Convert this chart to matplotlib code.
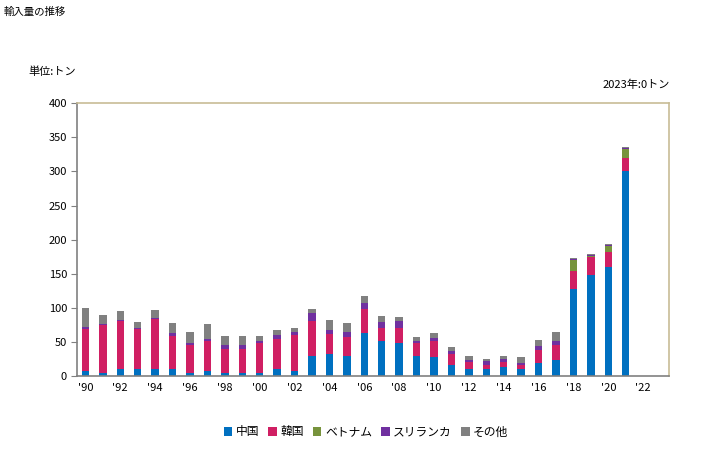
import matplotlib
matplotlib.use("Agg")
import matplotlib.pyplot as plt
from matplotlib.patches import Patch
import numpy as np

plt.rcParams['font.family'] = ['Noto Sans CJK JP', 'DejaVu Sans']

years = list(range(1990, 2022))
series_names = ["中国", "韓国", "ベトナム", "スリランカ", "その他"]
colors = ["#0070C0", "#D01F63", "#77933C", "#7030A0", "#808080"]

china = [7, 5, 11, 10, 11, 11, 5, 7, 4, 4, 5, 11, 8, 30, 33, 30, 63, 52, 49, 30, 28, 16,
         11, 11, 13, 10, 19.5, 23, 128, 148, 160, 300]
korea = [62, 70, 69, 59, 72, 47, 40, 44, 35, 36, 43, 44, 52, 51, 28, 27, 36, 18, 21, 18, 24, 16,
         9, 5.5, 7, 6.5, 18, 23, 26, 27, 22, 20]
vietnam = [0, 0, 0, 0, 0, 0, 0, 0, 0, 0, 0, 0, 0, 0, 0, 0, 0, 0, 0, 0, 0, 0,
           0, 0, 0, 0, 0, 0, 16, 0.5, 8, 13]
srilanka = [3, 2, 2, 1.5, 1.5, 5, 3, 3, 6, 6, 4, 5, 5, 11, 6, 8, 8, 9, 11, 4, 4, 4,
            3, 6, 5, 3, 6, 6, 2, 1.5, 2, 2]
other = [28, 13, 13, 8, 13, 15, 17, 22, 13, 12, 6, 7, 6, 7, 15, 13, 11, 9, 6, 5, 7, 7,
         7, 3, 4, 8.5, 9, 12, 1.5, 1.5, 1, 1.5]

xtick_years = list(range(1990, 2023, 2))
xtick_labels = ["'" + str(y)[2:] for y in xtick_years]
yticks = [0, 50, 100, 150, 200, 250, 300, 350, 400]

fig = plt.figure(figsize=(7.28, 4.5), dpi=100)
ax = fig.add_axes([76.7/728, 1-376/450, (669.3-76.7)/728, (376-103.3)/450])

bottom = np.zeros(len(years))
for vals, name, c in zip([china, korea, vietnam, srilanka, other], series_names, colors):
    v = np.array(vals, dtype=float)
    ax.bar(years, v, bottom=bottom, width=0.42, color=c, label=name, linewidth=0)
    bottom += v

ax.set_xlim(1989.5, 2023.5)
ax.set_ylim(0, 400)
ax.set_yticks(yticks)
ax.set_yticklabels([str(t) for t in yticks], fontsize=8)
ax.set_xticks(xtick_years)
ax.set_xticklabels(xtick_labels, fontsize=8)
ax.tick_params(axis='x', length=0, pad=5)
ax.tick_params(axis='y', length=4, color='#808080', pad=3)

for s in ['left', 'bottom']:
    ax.spines[s].set_color('#808080')
    ax.spines[s].set_linewidth(1.2)
for s in ['top', 'right']:
    ax.spines[s].set_color('#C8BC96')
    ax.spines[s].set_linewidth(1.2)

fig.text(4/728, 1-12/450, "輸入量の推移", fontsize=7.5, va='center', ha='left')
fig.text(28/728, 1-72/450, "単位:トン", fontsize=8, va='center', ha='left')
fig.text(670/728, 1-85/450, "2023年:0トン", fontsize=8, va='center', ha='right')

handles = [Patch(facecolor=c, edgecolor='none') for c in colors]
fig.legend(handles, series_names, loc='center', bbox_to_anchor=(366/728, 1-432/450),
           ncol=5, frameon=False, fontsize=8.5, handlelength=0.7, handleheight=0.7,
           handletextpad=0.3, columnspacing=0.8)

fig.savefig("out.png", dpi=100)
